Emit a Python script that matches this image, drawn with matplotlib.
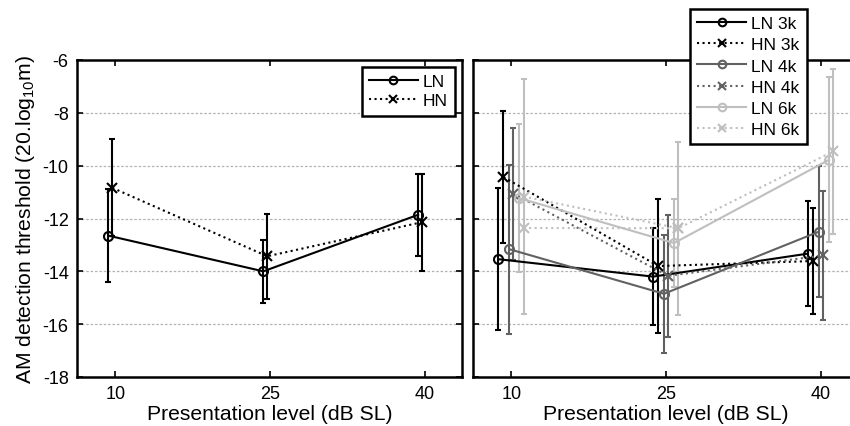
import matplotlib
matplotlib.use("Agg")
import matplotlib.pyplot as plt
from matplotlib.lines import Line2D
import numpy as np

plt.rcParams['font.family'] = ['Liberation Sans', 'DejaVu Sans']
plt.rcParams['mathtext.fontset'] = 'custom'
plt.rcParams['mathtext.rm'] = 'Liberation Sans'
plt.rcParams['mathtext.it'] = 'Liberation Sans'
plt.rcParams['axes.unicode_minus'] = False

levels = [10, 25, 40]
tick_labels = ['10', '25', '40']

# Left panel
ln_mean = [-12.65, -14.0, -11.86]
ln_err = [1.75, 1.18, 1.56]
hn_mean = [-10.84, -13.43, -12.14]
hn_err = [1.84, 1.6, 1.83]

# Right panel
ln3k_mean = [-13.54, -14.2, -13.33]
ln3k_err = [2.68, 1.83, 2.0]
hn3k_mean = [-10.43, -13.8, -13.61]
hn3k_err = [2.5, 2.55, 2.0]
ln4k_mean = [-13.16, -14.85, -12.5]
ln4k_err = [3.2, 2.24, 2.47]
hn4k_mean = [-11.06, -14.17, -13.4]
hn4k_err = [2.5, 2.31, 2.45]
ln6k_mean = [-11.23, -12.93, -9.78]
ln6k_err = [2.8, 1.65, 3.12]
hn6k_mean = [-11.17, -12.37, -9.46]
hn6k_err = [4.45, 3.28, 3.13]
# extra HN 6k trace visible in the original (horizontal dotted segment)
hn6k_extra_levels = [10, 25]
hn6k_extra_mean = [-12.36, -12.37]

W, H = 850, 427
fig = plt.figure(figsize=(W/100, H/100), dpi=100)

def pos(l, t, r, b):
    return [l/W, 1 - b/H, (r - l)/W, (b - t)/H]

ax1 = fig.add_axes(pos(77, 61, 462, 378))
ax2 = fig.add_axes(pos(473, 61, 858, 378))

FS_TICK = 13
FS_LAB = 15.2
FS_LEG = 12.5
cap = 2.5
ms = 6.5
lw = 1.5

def style(ax, show_ylabels):
    ax.set_xlim(6.3, 43.6)
    ax.set_ylim(-18, -6)
    ax.set_xticks(levels)
    ax.set_xticklabels(tick_labels)
    ax.set_yticks(np.arange(-18, -5, 2))
    ax.tick_params(direction='in', top=True, right=True, length=4, width=1.2,
                   labelsize=FS_TICK, pad=6)
    if not show_ylabels:
        ax.tick_params(labelleft=False)
    for sp in ax.spines.values():
        sp.set_linewidth(1.8)
    for yv in [-16, -14, -12, -10, -8]:
        ax.axhline(yv, color='0.7', lw=0.9, ls=(0, (2, 1.5)), zorder=0)
    ax.set_xlabel('Presentation level (dB SL)', fontsize=FS_LAB, labelpad=1)

def series(ax, offset, mean, err, color, ls, marker, label):
    x = np.array(levels) + offset
    ax.errorbar(x, mean, yerr=err, color=color, ls=ls, marker=marker, mfc='none',
                mec=color, ms=ms, mew=1.5, lw=lw, elinewidth=lw, capsize=cap,
                capthick=lw)
    return Line2D([], [], color=color, ls=ls, marker=marker, mfc='none', mec=color,
                  ms=5.5, mew=1.5, lw=lw, label=label)

def make_legend(ax, handles, spacing, **kw):
    leg = ax.legend(handles=handles, fontsize=FS_LEG, handlelength=2.8,
                    fancybox=False, framealpha=1, edgecolor='black', borderpad=0.42,
                    labelspacing=spacing, handletextpad=0.3, **kw)
    leg.get_frame().set_linewidth(1.8)
    leg.set_zorder(10)
    return leg

style(ax1, True)
h1 = [series(ax1, -0.65, ln_mean, ln_err, 'black', '-', 'o', 'LN'),
      series(ax1, -0.27, hn_mean, hn_err, 'black', ':', 'x', 'HN')]
ax1.set_ylabel('AM detection threshold (20.log$_{10}$m)', fontsize=FS_LAB, labelpad=4)
make_legend(ax1, h1, 0.22, loc='upper right', borderaxespad=0.4)

style(ax2, False)
dark = '0.38'
light = '0.75'
h2 = [series(ax2, -1.25, ln3k_mean, ln3k_err, 'black', '-', 'o', 'LN 3k'),
      series(ax2, -0.75, hn3k_mean, hn3k_err, 'black', ':', 'x', 'HN 3k'),
      series(ax2, -0.2, ln4k_mean, ln4k_err, dark, '-', 'o', 'LN 4k'),
      series(ax2, 0.2, hn4k_mean, hn4k_err, dark, ':', 'x', 'HN 4k'),
      series(ax2, 0.78, ln6k_mean, ln6k_err, light, '-', 'o', 'LN 6k'),
      series(ax2, 1.2, hn6k_mean, hn6k_err, light, ':', 'x', 'HN 6k')]
ax2.plot(np.array(hn6k_extra_levels) + 1.2, hn6k_extra_mean, color=light, ls=':',
         marker='x', ms=ms, mew=1.5, lw=lw)

make_legend(ax2, h2, 0.34, loc='upper left',
            bbox_to_anchor=((690 - 473) / 385, 1 + (61 - 10) / 317), borderaxespad=0.0)

fig.savefig('out.png', dpi=100)
